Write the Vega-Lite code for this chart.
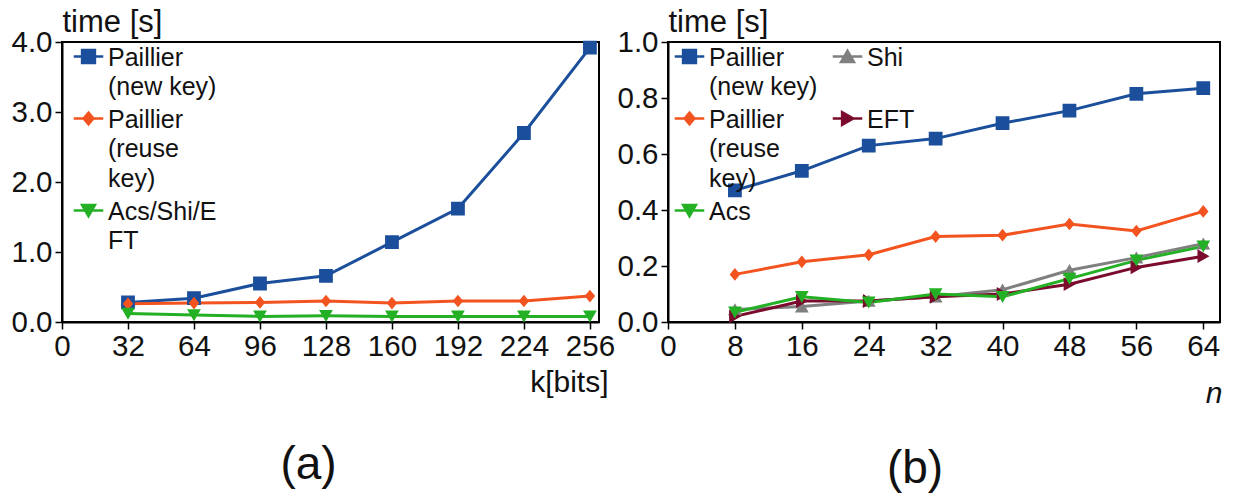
{
  "$schema": "https://vega.github.io/schema/vega-lite/v6.json",
  "background": "white",
  "padding": {"left": 9, "top": 5, "right": 5, "bottom": 5},
  "spacing": 69,
  "bounds": "flush",
  "config": {
    "font": "Liberation Sans",
    "view": {"stroke": "black", "strokeWidth": 2},
    "axis": {"labelFont": "Liberation Sans", "labelFontSize": 29.5, "labelColor": "#111", "titleFont": "Liberation Sans", "titleFontSize": 31, "titleFontWeight": "normal", "titleColor": "#111", "domainColor": "black", "domainWidth": 2, "tickColor": "black", "tickWidth": 1.5, "tickSize": 7, "grid": false, "labelPadding": 3, "labelFlush": false},
    "title": {"font": "Liberation Sans", "fontSize": 46, "fontWeight": "normal", "color": "#111"}
  },
  "datasets": {
    "a": [
      {"k": 32, "time": 0.28, "series": "Paillier (new key)"},
      {"k": 64, "time": 0.34, "series": "Paillier (new key)"},
      {"k": 96, "time": 0.55, "series": "Paillier (new key)"},
      {"k": 128, "time": 0.66, "series": "Paillier (new key)"},
      {"k": 160, "time": 1.14, "series": "Paillier (new key)"},
      {"k": 192, "time": 1.62, "series": "Paillier (new key)"},
      {"k": 224, "time": 2.70, "series": "Paillier (new key)"},
      {"k": 256, "time": 3.92, "series": "Paillier (new key)"},
      {"k": 32, "time": 0.26, "series": "Paillier (reuse key)"},
      {"k": 64, "time": 0.27, "series": "Paillier (reuse key)"},
      {"k": 96, "time": 0.28, "series": "Paillier (reuse key)"},
      {"k": 128, "time": 0.30, "series": "Paillier (reuse key)"},
      {"k": 160, "time": 0.27, "series": "Paillier (reuse key)"},
      {"k": 192, "time": 0.30, "series": "Paillier (reuse key)"},
      {"k": 224, "time": 0.30, "series": "Paillier (reuse key)"},
      {"k": 256, "time": 0.37, "series": "Paillier (reuse key)"},
      {"k": 32, "time": 0.12, "series": "Acs/Shi/EFT"},
      {"k": 64, "time": 0.10, "series": "Acs/Shi/EFT"},
      {"k": 96, "time": 0.08, "series": "Acs/Shi/EFT"},
      {"k": 128, "time": 0.09, "series": "Acs/Shi/EFT"},
      {"k": 160, "time": 0.08, "series": "Acs/Shi/EFT"},
      {"k": 192, "time": 0.08, "series": "Acs/Shi/EFT"},
      {"k": 224, "time": 0.08, "series": "Acs/Shi/EFT"},
      {"k": 256, "time": 0.08, "series": "Acs/Shi/EFT"}
    ],
    "b": [
      {"n": 8, "time": 0.47, "series": "Paillier (new key)"},
      {"n": 16, "time": 0.54, "series": "Paillier (new key)"},
      {"n": 24, "time": 0.63, "series": "Paillier (new key)"},
      {"n": 32, "time": 0.655, "series": "Paillier (new key)"},
      {"n": 40, "time": 0.71, "series": "Paillier (new key)"},
      {"n": 48, "time": 0.755, "series": "Paillier (new key)"},
      {"n": 56, "time": 0.815, "series": "Paillier (new key)"},
      {"n": 64, "time": 0.835, "series": "Paillier (new key)"},
      {"n": 8, "time": 0.17, "series": "Paillier (reuse key)"},
      {"n": 16, "time": 0.215, "series": "Paillier (reuse key)"},
      {"n": 24, "time": 0.24, "series": "Paillier (reuse key)"},
      {"n": 32, "time": 0.305, "series": "Paillier (reuse key)"},
      {"n": 40, "time": 0.31, "series": "Paillier (reuse key)"},
      {"n": 48, "time": 0.35, "series": "Paillier (reuse key)"},
      {"n": 56, "time": 0.325, "series": "Paillier (reuse key)"},
      {"n": 64, "time": 0.395, "series": "Paillier (reuse key)"},
      {"n": 8, "time": 0.045, "series": "Shi"},
      {"n": 16, "time": 0.055, "series": "Shi"},
      {"n": 24, "time": 0.075, "series": "Shi"},
      {"n": 32, "time": 0.09, "series": "Shi"},
      {"n": 40, "time": 0.115, "series": "Shi"},
      {"n": 48, "time": 0.185, "series": "Shi"},
      {"n": 56, "time": 0.23, "series": "Shi"},
      {"n": 64, "time": 0.28, "series": "Shi"},
      {"n": 8, "time": 0.02, "series": "EFT"},
      {"n": 16, "time": 0.075, "series": "EFT"},
      {"n": 24, "time": 0.075, "series": "EFT"},
      {"n": 32, "time": 0.09, "series": "EFT"},
      {"n": 40, "time": 0.10, "series": "EFT"},
      {"n": 48, "time": 0.135, "series": "EFT"},
      {"n": 56, "time": 0.195, "series": "EFT"},
      {"n": 64, "time": 0.235, "series": "EFT"},
      {"n": 8, "time": 0.035, "series": "Acs"},
      {"n": 16, "time": 0.09, "series": "Acs"},
      {"n": 24, "time": 0.07, "series": "Acs"},
      {"n": 32, "time": 0.10, "series": "Acs"},
      {"n": 40, "time": 0.09, "series": "Acs"},
      {"n": 48, "time": 0.155, "series": "Acs"},
      {"n": 56, "time": 0.22, "series": "Acs"},
      {"n": 64, "time": 0.27, "series": "Acs"}
    ]
  },
  "hconcat": [
    {
      "width": 537,
      "height": 280,
      "data": {"name": "a"},
      "title": {"text": "(a)", "orient": "bottom", "dx": -22, "offset": 46, "baseline": "top"},
      "encoding": {
        "x": {"field": "k", "type": "quantitative", "scale": {"domain": [0, 260.4], "nice": false, "zero": false},
          "axis": {"values": [0, 32, 64, 96, 128, 160, 192, 224, 256], "title": "k[bits]", "titleFontSize": 30, "titleAlign": "right", "titleX": 546, "titleY": 69, "titleBaseline": "alphabetic"}},
        "y": {"field": "time", "type": "quantitative", "scale": {"domain": [0, 4], "nice": false},
          "axis": {"values": [0, 1, 2, 3, 4], "format": ".1f", "title": "time [s]", "titleAngle": 0, "titleAlign": "left", "titleX": 0, "titleY": -11, "titleBaseline": "alphabetic"}}
      },
      "layer": [
        {
          "mark": {"type": "line", "strokeWidth": 3},
          "encoding": {
            "stroke": {"field": "series", "type": "nominal",
              "scale": {"domain": ["Paillier (new key)", "Paillier (reuse key)", "Acs/Shi/EFT"], "range": ["#1b4f9c", "#f2531f", "#24b024"]},
              "legend": {"title": null, "orient": "none", "legendX": 12, "legendY": 0, "padding": 0, "symbolSize": 660, "symbolStrokeWidth": 2.5, "labelFont": "Liberation Sans", "labelFontSize": 25, "labelColor": "#111", "labelLimit": 0, "labelOffset": 5, "rowPadding": 4, "labelBaseline": "alphabetic",
                "labelExpr": "datum.label == 'Paillier (new key)' ? ['Paillier', '(new key)'] : datum.label == 'Paillier (reuse key)' ? ['Paillier', '(reuse', 'key)'] : ['Acs/Shi/E', 'FT']",
                "encode": {"labels": {"update": {"lineHeight": {"value": 29.5}, "dy": {"value": 9}}}}}}
          }
        },
        {
          "mark": {"type": "point", "filled": true, "size": 760, "opacity": 1},
          "encoding": {
            "fill": {"field": "series", "type": "nominal",
              "scale": {"domain": ["Paillier (new key)", "Paillier (reuse key)", "Acs/Shi/EFT"], "range": ["#1b4f9c", "#f2531f", "#24b024"]},
              "legend": {"title": null, "orient": "none", "legendX": 12, "legendY": 0, "padding": 0, "symbolSize": 660, "symbolStrokeWidth": 2.5, "labelFont": "Liberation Sans", "labelFontSize": 25, "labelColor": "#111", "labelLimit": 0, "labelOffset": 5, "rowPadding": 4, "labelBaseline": "alphabetic",
                "labelExpr": "datum.label == 'Paillier (new key)' ? ['Paillier', '(new key)'] : datum.label == 'Paillier (reuse key)' ? ['Paillier', '(reuse', 'key)'] : ['Acs/Shi/E', 'FT']",
                "encode": {"labels": {"update": {"lineHeight": {"value": 29.5}, "dy": {"value": 9}}}}}},
            "shape": {"field": "series", "type": "nominal",
              "scale": {"domain": ["Paillier (new key)", "Paillier (reuse key)", "Acs/Shi/EFT"], "range": ["M-1.15,0H1.15M-0.5,-0.5H0.5V0.5H-0.5Z", "M-1.15,0H1.15M0,-0.46L0.38,0L0,0.46L-0.38,0Z", "M-1.15,0H1.15M-0.5,-0.42H0.5L0,0.45Z"]},
              "legend": {"title": null, "orient": "none", "legendX": 12, "legendY": 0, "padding": 0, "symbolSize": 660, "symbolStrokeWidth": 2.5, "labelFont": "Liberation Sans", "labelFontSize": 25, "labelColor": "#111", "labelLimit": 0, "labelOffset": 5, "rowPadding": 4, "labelBaseline": "alphabetic",
                "labelExpr": "datum.label == 'Paillier (new key)' ? ['Paillier', '(new key)'] : datum.label == 'Paillier (reuse key)' ? ['Paillier', '(reuse', 'key)'] : ['Acs/Shi/E', 'FT']",
                "encode": {"labels": {"update": {"lineHeight": {"value": 29.5}, "dy": {"value": 9}}}}}}
          }
        }
      ]
    },
    {
      "width": 552,
      "height": 280,
      "data": {"name": "b"},
      "title": {"text": "(b)", "orient": "bottom", "dx": -29, "offset": 39, "baseline": "top"},
      "encoding": {
        "x": {"field": "n", "type": "quantitative", "scale": {"domain": [0, 66], "nice": false, "zero": false},
          "axis": {"values": [0, 8, 16, 24, 32, 40, 48, 56, 64], "title": "n", "titleFontSize": 30, "titleFontStyle": "italic", "titleAlign": "right", "titleX": 554, "titleY": 80, "titleBaseline": "alphabetic"}},
        "y": {"field": "time", "type": "quantitative", "scale": {"domain": [0, 1], "nice": false},
          "axis": {"values": [0, 0.2, 0.4, 0.6, 0.8, 1.0], "format": ".1f", "title": "time [s]", "titleAngle": 0, "titleAlign": "left", "titleX": 0, "titleY": -11, "titleBaseline": "alphabetic"}}
      },
      "layer": [
        {
          "mark": {"type": "line", "strokeWidth": 3},
          "encoding": {
            "stroke": {"field": "series", "type": "nominal",
              "scale": {"domain": ["Paillier (new key)", "Paillier (reuse key)", "Acs", "Shi", "EFT"], "range": ["#1b4f9c", "#f2531f", "#24b024", "#7f7f7f", "#7a0b2c"]},
              "legend": {"title": null, "orient": "none", "legendX": 7, "legendY": 0, "columns": 2, "columnPadding": 9, "padding": 0, "symbolSize": 660, "symbolStrokeWidth": 2.5, "labelFont": "Liberation Sans", "labelFontSize": 25, "labelColor": "#111", "labelLimit": 0, "labelOffset": 5, "rowPadding": 4, "labelBaseline": "alphabetic",
                "labelExpr": "datum.label == 'Paillier (new key)' ? ['Paillier', '(new key)'] : datum.label == 'Paillier (reuse key)' ? ['Paillier', '(reuse', 'key)'] : datum.label == 'Shi' ? ['Shi', ' '] : datum.label == 'EFT' ? ['EFT', ' ', ' '] : datum.label",
                "encode": {"labels": {"update": {"lineHeight": {"value": 29.5}, "dy": {"value": 9}}}}}}
          }
        },
        {
          "mark": {"type": "point", "filled": true, "size": 760, "opacity": 1},
          "encoding": {
            "fill": {"field": "series", "type": "nominal",
              "scale": {"domain": ["Paillier (new key)", "Paillier (reuse key)", "Acs", "Shi", "EFT"], "range": ["#1b4f9c", "#f2531f", "#24b024", "#7f7f7f", "#7a0b2c"]},
              "legend": {"title": null, "orient": "none", "legendX": 7, "legendY": 0, "columns": 2, "columnPadding": 9, "padding": 0, "symbolSize": 660, "symbolStrokeWidth": 2.5, "labelFont": "Liberation Sans", "labelFontSize": 25, "labelColor": "#111", "labelLimit": 0, "labelOffset": 5, "rowPadding": 4, "labelBaseline": "alphabetic",
                "labelExpr": "datum.label == 'Paillier (new key)' ? ['Paillier', '(new key)'] : datum.label == 'Paillier (reuse key)' ? ['Paillier', '(reuse', 'key)'] : datum.label == 'Shi' ? ['Shi', ' '] : datum.label == 'EFT' ? ['EFT', ' ', ' '] : datum.label",
                "encode": {"labels": {"update": {"lineHeight": {"value": 29.5}, "dy": {"value": 9}}}}}},
            "shape": {"field": "series", "type": "nominal",
              "scale": {"domain": ["Paillier (new key)", "Paillier (reuse key)", "Acs", "Shi", "EFT"], "range": ["M-1.15,0H1.15M-0.5,-0.5H0.5V0.5H-0.5Z", "M-1.15,0H1.15M0,-0.46L0.38,0L0,0.46L-0.38,0Z", "M-1.15,0H1.15M-0.5,-0.42H0.5L0,0.45Z", "M-1.15,0H1.15M-0.5,0.42H0.5L0,-0.45Z", "M-1.15,0H1.15M-0.42,-0.5V0.5L0.45,0Z"]},
              "legend": {"title": null, "orient": "none", "legendX": 7, "legendY": 0, "columns": 2, "columnPadding": 9, "padding": 0, "symbolSize": 660, "symbolStrokeWidth": 2.5, "labelFont": "Liberation Sans", "labelFontSize": 25, "labelColor": "#111", "labelLimit": 0, "labelOffset": 5, "rowPadding": 4, "labelBaseline": "alphabetic",
                "labelExpr": "datum.label == 'Paillier (new key)' ? ['Paillier', '(new key)'] : datum.label == 'Paillier (reuse key)' ? ['Paillier', '(reuse', 'key)'] : datum.label == 'Shi' ? ['Shi', ' '] : datum.label == 'EFT' ? ['EFT', ' ', ' '] : datum.label",
                "encode": {"labels": {"update": {"lineHeight": {"value": 29.5}, "dy": {"value": 9}}}}}}
          }
        }
      ]
    }
  ],
  "resolve": {"scale": {"stroke": "independent", "fill": "independent", "shape": "independent"}, "legend": {"stroke": "independent", "fill": "independent", "shape": "independent"}}
}
